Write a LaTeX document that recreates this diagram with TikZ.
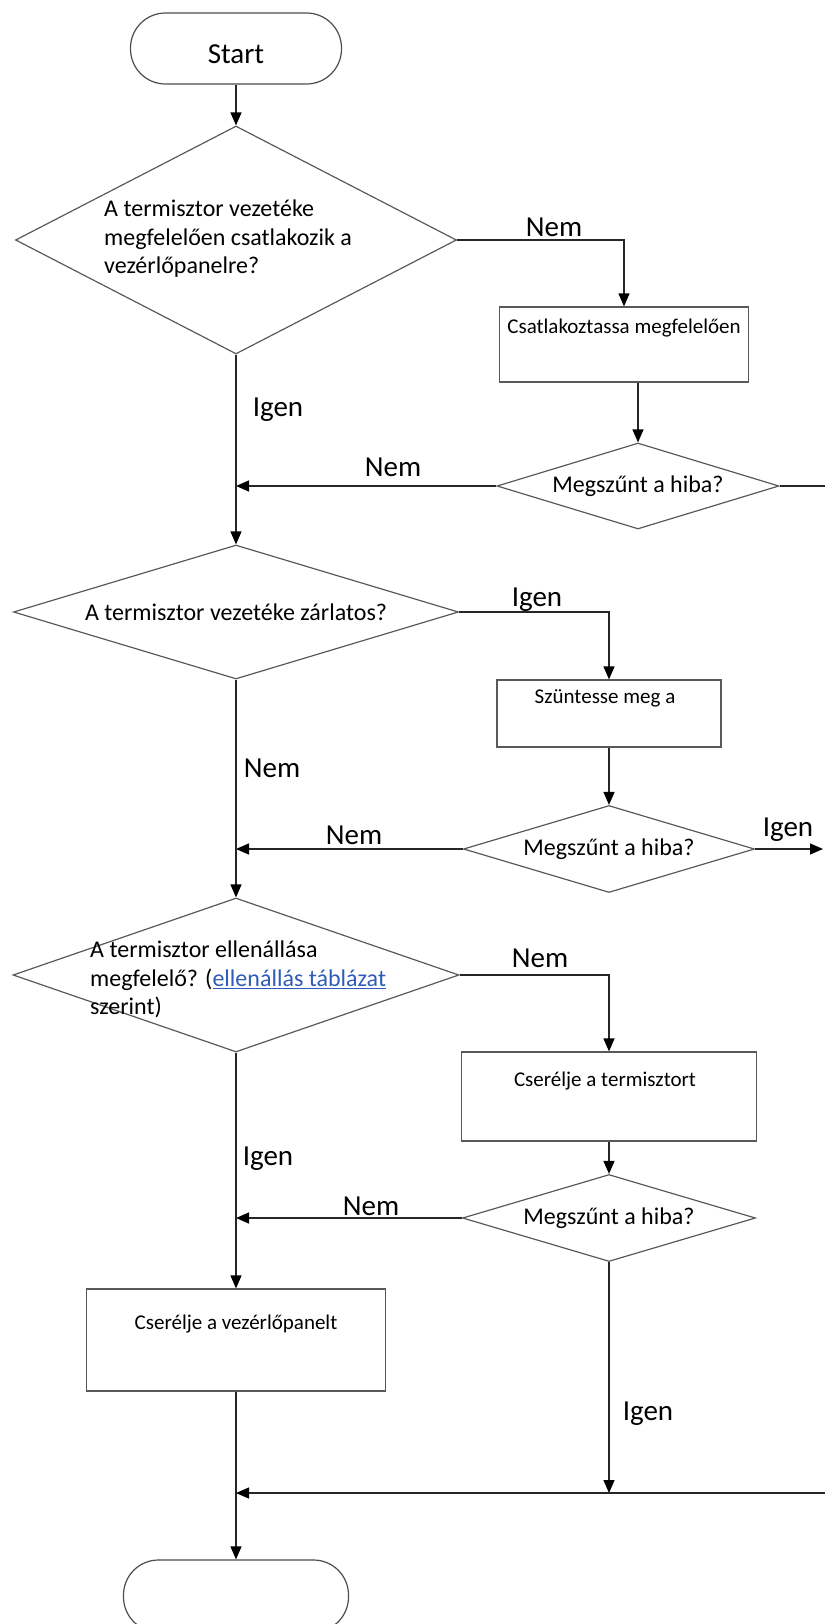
\documentclass[tikz,border=0pt]{standalone}
\usepackage{fontspec}
\setmainfont{Carlito}
\usetikzlibrary{shapes.geometric,arrows.meta}
\definecolor{linkblue}{RGB}{46,92,184}
\begin{document}
\begin{tikzpicture}[x=1pt,y=-1pt,
    conn/.style={draw=black!85,line width=1.4pt},
    arr/.style={conn,-{Triangle[width=11pt,length=13pt,black]}},
    term/.style={draw=black!70,line width=1.2pt,rounded corners=35pt,inner sep=0pt,font=\fontsize{29}{34}\selectfont},
    decide/.style={diamond,draw=black!65,line width=1.2pt,inner sep=0pt,font=\fontsize{24}{29}\selectfont},
    proc/.style={draw=black!65,line width=1.2pt},
    qtext/.style={inner sep=0pt,align=left,font=\fontsize{24}{28.5}\selectfont},
    btext/.style={inner sep=0pt,anchor=base,font=\fontsize{21}{25}\selectfont},
    lbl/.style={inner sep=0pt,anchor=base,font=\fontsize{29}{34}\selectfont}]
  \useasboundingbox (0,0) rectangle (825,1624);
  \node[term,text height=30pt,minimum width=211pt,minimum height=71pt] (start) at (236,48.5) {Start};
  \node[decide,minimum width=441pt,minimum height=228pt] (d1) at (236,240) {};
  \node[qtext,anchor=north west] (d1t) at (104,200) {A termisztor vezetéke\\megfelelően csatlakozik a\\vezérlőpanelre?};
  \node[proc,minimum width=249pt,minimum height=75pt] (b1) at (624,344.5) {};
  \node[btext] (b1t) at (624,333) {Csatlakoztassa megfelelően};
  \node[decide,aspect=3.3,minimum width=282pt,minimum height=86pt] (d2) at (638,486) {Megszűnt a hiba?};
  \node[decide,aspect=3.3,minimum width=445pt,minimum height=134pt] (d3) at (236,612) {A termisztor vezetéke zárlatos?};
  \node[proc,minimum width=224pt,minimum height=67pt] (b2) at (609,713.5) {};
  \node[btext] (b2t) at (605,703) {Szüntesse meg a};
  \node[decide,aspect=3.3,minimum width=291pt,minimum height=87pt] (d4) at (609,849) {Megszűnt a hiba?};
  \node[decide,minimum width=446pt,minimum height=154pt] (d5) at (236,975) {};
  \node[qtext,anchor=north west] (d5t) at (90,941) {A termisztor ellenállása\\megfelelő? ({\color{linkblue}\underline{ellenállás táblázat}}\\szerint)};
  \node[proc,minimum width=295pt,minimum height=89pt] (b3) at (609,1096.5) {};
  \node[btext] (b3t) at (605,1086) {Cserélje a termisztort};
  \node[decide,aspect=3.3,minimum width=293pt,minimum height=87pt] (d6) at (609,1218) {Megszűnt a hiba?};
  \node[proc,minimum width=299pt,minimum height=102pt] (b4) at (236,1340) {};
  \node[btext] (b4t) at (236,1329) {Cserélje a vezérlőpanelt};
  \node[term,minimum width=225pt,minimum height=72pt] (stop) at (236,1596) {};
  \coordinate (out1) at (825,486);
  \coordinate (out2) at (823,849);
  \coordinate (in1) at (825,1493);
  \node[lbl] (nem1) at (554,236) {Nem};
  \node[lbl] (igen1) at (278,416) {Igen};
  \node[lbl] (nem2) at (393,476) {Nem};
  \node[lbl] (igen2) at (537,606) {Igen};
  \node[lbl] (nem3) at (272,777) {Nem};
  \node[lbl] (nem4) at (354,844) {Nem};
  \node[lbl] (igen3) at (788,836) {Igen};
  \node[lbl] (nem5) at (540,967) {Nem};
  \node[lbl] (igen4) at (268,1165) {Igen};
  \node[lbl] (nem6) at (371,1215) {Nem};
  \node[lbl] (igen5) at (648,1420) {Igen};
  \draw[arr] (start) -- (d1);
  \draw[arr] (d1.east) -| (b1);
  \draw[arr] (b1.south -| d2) -- (d2);
  \draw[conn] (d2.east) -- (out1);
  \draw[arr] (d2.west) -- (d2.west -| d1);
  \draw[arr] (d1) -- (d3);
  \draw[arr] (d3.east) -| (b2);
  \draw[arr] (b2) -- (d4);
  \draw[arr] (d4.west) -- (d4.west -| d1);
  \draw[arr] (d4.east) -- (out2);
  \draw[arr] (d3) -- (d5);
  \draw[arr] (d5.east) -| (b3);
  \draw[arr] (b3) -- (d6);
  \draw[arr] (d6.west) -- (d6.west -| d1);
  \draw[arr] (d5) -- (b4);
  \draw[arr] (b4) -- (stop);
  \draw[arr] (d6) -- (d6 |- in1);
  \draw[arr] (in1) -- (in1 -| b4);
\end{tikzpicture}
\end{document}
